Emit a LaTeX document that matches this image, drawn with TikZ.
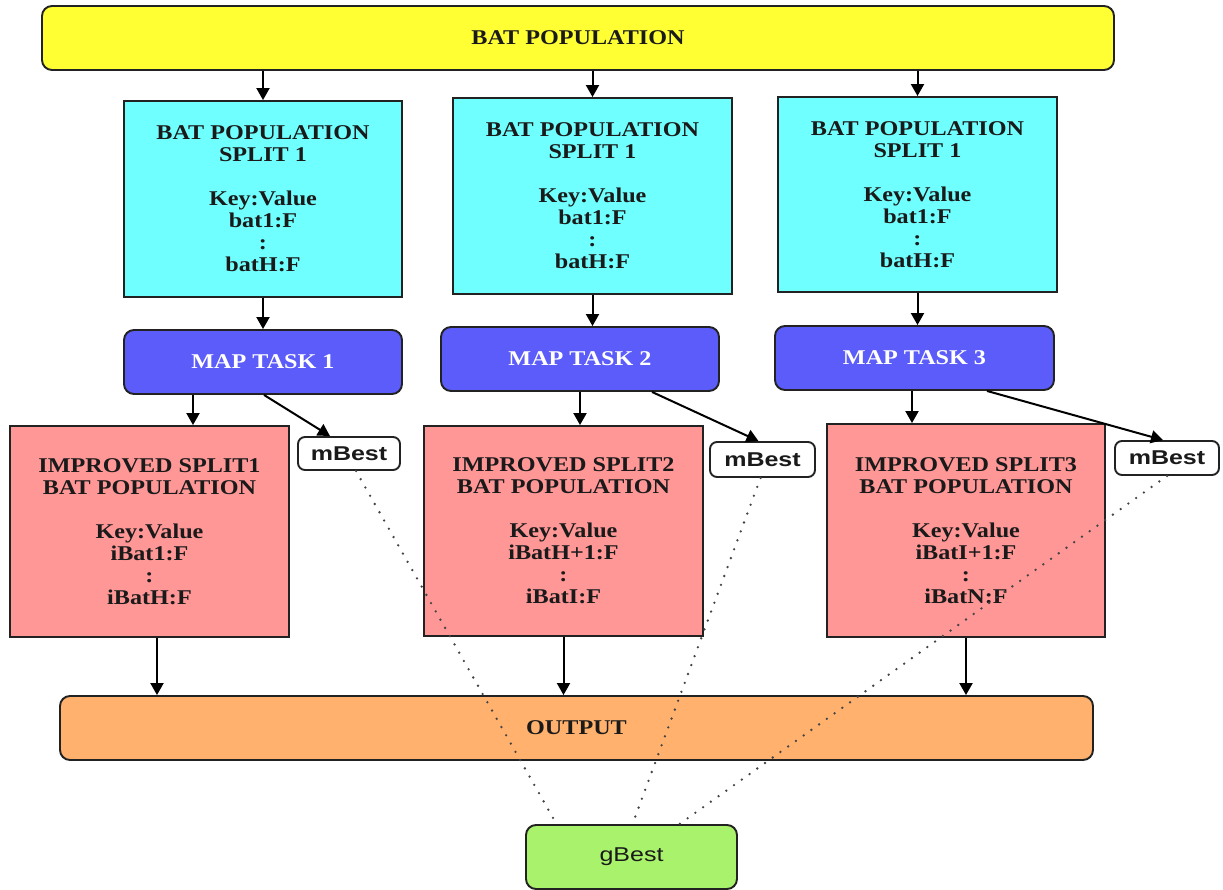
\documentclass[tikz,border=0pt]{standalone}
\usepackage{fontspec}
\setmainfont{Liberation Serif}[FakeStretch=1.15]
\newfontfamily\labelsans{Liberation Sans}[FakeStretch=1.25]
\usetikzlibrary{arrows.meta,calc}

\definecolor{popyellow}{HTML}{FFFF33}
\definecolor{splitcyan}{HTML}{70FFFF}
\definecolor{mapblue}{HTML}{5C5CFA}
\definecolor{imppink}{HTML}{FF9797}
\definecolor{outorange}{HTML}{FFB16D}
\definecolor{bestgreen}{HTML}{A8F26C}
\definecolor{edgecol}{HTML}{222222}
\definecolor{inkcol}{HTML}{1A1A1A}
\definecolor{dotcol}{HTML}{444444}

\begin{document}
\begin{tikzpicture}[x=1pt,y=-1pt,
  box/.style={draw=edgecol, line width=1.9pt, inner sep=0pt, align=center,
    text=inkcol, font=\bfseries\fontsize{21}{22}\selectfont},
  roundbox/.style={box, rounded corners=10pt},
  bestbox/.style={draw=edgecol, line width=1.9pt, inner sep=0pt, fill=white,
    rounded corners=7pt, text=inkcol, font=\labelsans\bfseries\fontsize{20}{22}\selectfont},
  arr/.style={-{Triangle[length=12pt,width=13pt]}, line width=2pt, draw=black},
  dots/.style={draw=dotcol, line width=2.6pt, dash pattern=on 0pt off 9.5pt, line cap=round}
]
\useasboundingbox (0,0) rectangle (1223,890);

% top population bar
\node[roundbox, fill=popyellow, minimum width=1072pt, minimum height=64pt] (pop) at (578,38) {BAT POPULATION};

% population splits
\node[box, fill=splitcyan, minimum width=278pt, minimum height=196pt] (s1) at (263,199)
  {BAT POPULATION\\ SPLIT 1\\[22pt] Key:Value\\ bat1:F\\ :\\ batH:F};
\node[box, fill=splitcyan, minimum width=279pt, minimum height=196pt] (s2) at (592.5,196)
  {BAT POPULATION\\ SPLIT 1\\[22pt] Key:Value\\ bat1:F\\ :\\ batH:F};
\node[box, fill=splitcyan, minimum width=279pt, minimum height=195pt] (s3) at (917.5,194.5)
  {BAT POPULATION\\ SPLIT 1\\[22pt] Key:Value\\ bat1:F\\ :\\ batH:F};

% map tasks
\node[roundbox, fill=mapblue, text=white, minimum width=278pt, minimum height=64pt] (m1) at (263,362) {MAP TASK 1};
\node[roundbox, fill=mapblue, text=white, minimum width=278pt, minimum height=64pt] (m2) at (580,359) {MAP TASK 2};
\node[roundbox, fill=mapblue, text=white, minimum width=279pt, minimum height=64pt] (m3) at (914.5,358) {MAP TASK 3};

% improved splits
\node[box, fill=imppink, minimum width=279pt, minimum height=211pt] (i1) at (149.5,531.5)
  {IMPROVED SPLIT1\\ BAT POPULATION\\[22pt] Key:Value\\ iBat1:F\\ :\\ iBatH:F};
\node[box, fill=imppink, minimum width=279pt, minimum height=210pt] (i2) at (563.5,531)
  {IMPROVED SPLIT2\\ BAT POPULATION\\[22pt] Key:Value\\ iBatH+1:F\\ :\\ iBatI:F};
\node[box, fill=imppink, minimum width=278pt, minimum height=213pt] (i3) at (966,530.5)
  {IMPROVED SPLIT3\\ BAT POPULATION\\[22pt] Key:Value\\ iBatI+1:F\\ :\\ iBatN:F};

% local bests
\node[bestbox, minimum width=102pt, minimum height=33pt] (b1) at (349,453.5) {mBest};
\node[bestbox, minimum width=105pt, minimum height=35pt] (b2) at (762.5,459.5) {mBest};
\node[bestbox, minimum width=104pt, minimum height=34pt] (b3) at (1167,458) {mBest};

% output bar and global best
\node[roundbox, fill=outorange, minimum width=1033pt, minimum height=64pt] (out) at (576.5,728) {OUTPUT};
\node[bestbox, fill=bestgreen, rounded corners=10pt, font=\labelsans\fontsize{20}{22}\selectfont,
  minimum width=211pt, minimum height=64pt] (g) at (631.5,857) {gBest};

% population -> splits
\draw[arr] (s1.north |- pop.south) -- (s1.north);
\draw[arr] (s2.north |- pop.south) -- (s2.north);
\draw[arr] (s3.north |- pop.south) -- (s3.north);

% splits -> map tasks
\draw[arr] (s1.south) -- (s1.south |- m1.north);
\draw[arr] (s2.south) -- (s2.south |- m2.north);
\draw[arr] (s3.south) -- (s3.south |- m3.north);

% map tasks -> improved splits
\draw[arr] ([xshift=-70pt]m1.south) -- ([xshift=-70pt]m1.south |- i1.north);
\draw[arr] (m2.south) -- (m2.south |- i2.north);
\draw[arr] ([xshift=-2.5pt]m3.south) -- ([xshift=-2.5pt]m3.south |- i3.north);

% map tasks -> local bests
\draw[arr] ([xshift=1pt]m1.south) -- ([xshift=-19pt]b1.north);
\draw[arr] ([xshift=72pt]m2.south) -- ([xshift=-4pt]b2.north);
\draw[arr] ([xshift=72.5pt]m3.south) -- ([xshift=-4pt]b3.north);

% improved splits -> output
\draw[arr] ([xshift=7.5pt]i1.south) -- ([xshift=7.5pt]i1.south |- out.north);
\draw[arr] (i2.south) -- (i2.south |- out.north);
\draw[arr] (i3.south) -- (i3.south |- out.north);

% local bests feed the global best
\draw[dots] ([xshift=7pt]b1.south) -- ([xshift=-75pt]g.north);
\draw[dots] ([xshift=-2pt]b2.south) -- ([xshift=1pt]g.north);
\draw[dots] (b3.south) -- ([xshift=48pt]g.north);
\end{tikzpicture}
\end{document}
